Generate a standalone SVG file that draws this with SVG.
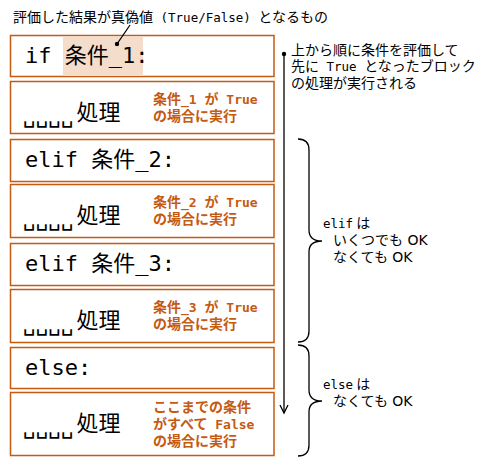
<svg xmlns="http://www.w3.org/2000/svg" width="492" height="467" viewBox="0 0 492 467">
<style>
.box{fill:#fff;stroke:#C55A11;stroke-width:1.5}
.code{font-family:"DejaVu Sans Mono","Noto Sans CJK JP",monospace;font-size:22px;fill:#000}
.sp{font-size:21px}
.note{font-family:"Noto Sans CJK JP",sans-serif;font-size:14px;font-weight:bold;fill:#C55A11}
.nm{font-family:"DejaVu Sans Mono",monospace;font-size:13px}
.txt{font-family:"Noto Sans CJK JP",sans-serif;font-size:14px;fill:#000}
.mono{font-family:"DejaVu Sans Mono",monospace;font-size:12.5px}
.lat{font-family:"DejaVu Sans",sans-serif}
.line{fill:none;stroke:#000;stroke-width:1.3}
</style>
<rect width="492" height="467" fill="#fff"/>
<text class="txt" x="13" y="22">評価した結果が真偽値<tspan class="mono"> (True/False) </tspan>となるもの</text>

<g id="if-cond">
<rect class="box" x="10.5" y="35.5" width="263.5" height="41"/>
<rect x="63" y="37" width="80" height="39" fill="#F5DDCC"/>
<text class="code" x="25" y="63">if 条件_1:</text>
</g>
<g id="if-body">
<rect class="box" x="10.5" y="81.5" width="263.5" height="52"/>
<text class="code" x="23" y="119.5"><tspan class="sp" dy="3">␣␣␣␣</tspan><tspan dx="3" dy="-3">処理</tspan></text>
<text class="note" x="153" y="104">条件<tspan class="nm">_1 </tspan>が<tspan class="nm"> True</tspan></text>
<text class="note" x="153" y="121">の場合に実行</text>
</g>
<g id="elif2-cond">
<rect class="box" x="10.5" y="139.5" width="263.5" height="42"/>
<text class="code" x="25" y="167">elif 条件_2:</text>
</g>
<g id="elif2-body">
<rect class="box" x="10.5" y="184.5" width="263.5" height="53"/>
<text class="code" x="23" y="222.5"><tspan class="sp" dy="3">␣␣␣␣</tspan><tspan dx="3" dy="-3">処理</tspan></text>
<text class="note" x="153" y="207">条件<tspan class="nm">_2 </tspan>が<tspan class="nm"> True</tspan></text>
<text class="note" x="153" y="224">の場合に実行</text>
</g>
<g id="elif3-cond">
<rect class="box" x="10.5" y="243.5" width="263.5" height="42"/>
<text class="code" x="25" y="271">elif 条件_3:</text>
</g>
<g id="elif3-body">
<rect class="box" x="10.5" y="289.5" width="263.5" height="53"/>
<text class="code" x="23" y="327.5"><tspan class="sp" dy="3">␣␣␣␣</tspan><tspan dx="3" dy="-3">処理</tspan></text>
<text class="note" x="153" y="312">条件<tspan class="nm">_3 </tspan>が<tspan class="nm"> True</tspan></text>
<text class="note" x="153" y="329">の場合に実行</text>
</g>
<g id="else-cond">
<rect class="box" x="10.5" y="347.5" width="263.5" height="41"/>
<text class="code" x="25" y="375">else:</text>
</g>
<g id="else-body">
<rect class="box" x="10.5" y="392.5" width="263.5" height="63"/>
<text class="code" x="23" y="431"><tspan class="sp" dy="3">␣␣␣␣</tspan><tspan dx="3" dy="-3">処理</tspan></text>
<text class="note" x="153" y="412">ここまでの条件</text>
<text class="note" x="153" y="429">がすべて<tspan class="nm"> False</tspan></text>
<text class="note" x="153" y="446">の場合に実行</text>
</g>

<g id="connectors">
<circle cx="117" cy="44" r="2.2" fill="#000"/>
<line class="line" x1="117" y1="44" x2="130" y2="25"/>
<circle cx="284" cy="54" r="2.2" fill="#000"/>
<line class="line" x1="284" y1="54" x2="284" y2="413"/>
<polyline class="line" points="280,405 284,413 288,405"/>
<path class="line" d="M298,139 C305,139 309,142 309,150 L309,230 C309,237 313,241 322,241 C313,241 309,245 309,252 L309,331 C309,338 305,342 298,342"/>
<path class="line" d="M298,345 C305,345 309,348 309,356 L309,390 C309,397 313,401 322,401 C313,401 309,405 309,412 L309,445 C309,452 305,456 298,456"/>
</g>

<g id="notes">
<text class="txt" x="291" y="54.5">上から順に条件を評価して</text>
<text class="txt" x="291" y="71">先に<tspan class="mono"> True </tspan>となったブロック</text>
<text class="txt" x="291" y="87.5">の処理が実行される</text>
<text class="txt" x="323" y="228"><tspan class="mono">elif</tspan> は</text>
<text class="txt" x="333" y="245">いくつでも<tspan class="lat"> OK</tspan></text>
<text class="txt" x="333" y="262">なくても<tspan class="lat"> OK</tspan></text>
<text class="txt" x="323" y="389"><tspan class="mono">else</tspan> は</text>
<text class="txt" x="333" y="406">なくても<tspan class="lat"> OK</tspan></text>
</g>
</svg>
